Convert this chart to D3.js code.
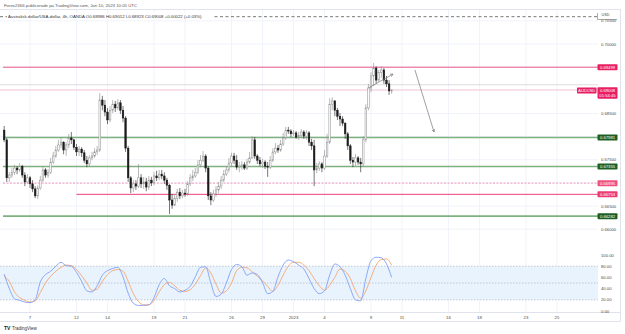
<!DOCTYPE html>
<html>
<head>
<meta charset="utf-8">
<script src="https://d3js.org/d3.v7.min.js"></script>
<style>
body { margin: 0; background: #fff; }
svg { display: block; font-family: "Liberation Sans", Arial, sans-serif; }
</style>
</head>
<body>
<div id="chart"></div>
<script>
// AUDUSD 4h candles, bar 0 = Dec 5, last bar = Jan 10 08:00
var firstOpen = 0.6814;
var closes = [
0.6793,0.6711,0.6717,0.6723,0.6732,0.6728,0.6736,0.6717,0.6702,0.6711,
0.6698,0.6687,0.6672,0.6689,0.6706,0.6728,0.6717,0.6723,0.6745,0.6758,
0.6771,0.6782,0.6788,0.6771,0.6782,0.6797,0.6793,0.6777,0.6767,0.6773,
0.6765,0.6749,0.6741,0.6754,0.6758,0.6767,0.6771,0.6879,0.6868,0.6853,
0.6836,0.6857,0.6870,0.6862,0.6873,0.6857,0.6840,0.6775,0.6711,0.6689,
0.6698,0.6693,0.6711,0.6698,0.6702,0.6691,0.6706,0.6700,0.6715,0.6711,
0.6719,0.6715,0.6706,0.6695,0.6663,0.6652,0.6667,0.6680,0.6672,0.6678,
0.6676,0.6698,0.6711,0.6715,0.6723,0.6739,0.6749,0.6758,0.6732,0.6672,
0.6663,0.6676,0.6685,0.6693,0.6706,0.6719,0.6728,0.6743,0.6758,0.6749,
0.6734,0.6736,0.6739,0.6732,0.6745,0.6754,0.6793,0.6758,0.6749,0.6741,
0.6745,0.6736,0.6734,0.6749,0.6767,0.6775,0.6771,0.6784,0.6797,0.6814,
0.6812,0.6806,0.6808,0.6799,0.6803,0.6810,0.6801,0.6808,0.6788,0.6780,
0.6728,0.6732,0.6741,0.6732,0.6758,0.6788,0.6870,0.6877,0.6857,0.6844,
0.6838,0.6829,0.6806,0.6780,0.6749,0.6745,0.6754,0.6745,0.6741,0.6793,
0.6862,0.6905,0.6931,0.6948,0.6922,0.6939,0.6944,0.6922,0.6914,0.68986,
0.69008];
var highs = [
0.6823,0.6797,0.6723,0.6732,0.6739,0.6736,0.6743,0.6739,0.6723,0.6719,
0.6715,0.6706,0.6693,0.6695,0.6715,0.6736,0.6732,0.6730,0.6754,0.6767,
0.6780,0.6793,0.6799,0.6790,0.6788,0.6806,0.6810,0.6795,0.6784,0.6780,
0.6777,0.6771,0.6758,0.6760,0.6767,0.6775,0.6780,0.6894,0.6888,0.6879,
0.6862,0.6866,0.6879,0.6877,0.6881,0.6879,0.6866,0.6844,0.6780,0.6715,
0.6706,0.6706,0.6741,0.6719,0.6713,0.6711,0.6715,0.6713,0.6723,0.6726,
0.6728,0.6728,0.6723,0.6711,0.6698,0.6676,0.6674,0.6687,0.6689,0.6685,
0.6687,0.6704,0.6719,0.6728,0.6732,0.6749,0.6760,0.6769,0.6762,0.6736,
0.6680,0.6685,0.6693,0.6702,0.6715,0.6728,0.6736,0.6754,0.6765,0.6765,
0.6760,0.6745,0.6747,0.6745,0.6752,0.6767,0.6801,0.6799,0.6762,0.6756,
0.6752,0.6749,0.6745,0.6758,0.6775,0.6786,0.6782,0.6793,0.6808,0.6821,
0.6821,0.6816,0.6814,0.6812,0.6810,0.6816,0.6814,0.6814,0.6812,0.6795,
0.6793,0.6743,0.6747,0.6745,0.6771,0.6806,0.6883,0.6885,0.6879,0.6862,
0.6851,0.6844,0.6831,0.6810,0.6784,0.6756,0.6762,0.6758,0.6754,0.6801,
0.6870,0.6914,0.6939,0.6959,0.6952,0.6944,0.6952,0.6948,0.6931,0.6922,
0.69012];
var lows = [
0.6788,0.6702,0.6702,0.6711,0.6717,0.6719,0.6723,0.6711,0.6693,0.6698,
0.6689,0.6680,0.6667,0.6665,0.6685,0.6702,0.6711,0.6711,0.6719,0.6741,
0.6754,0.6767,0.6775,0.6762,0.6758,0.6775,0.6784,0.6771,0.6758,0.6758,
0.6756,0.6743,0.6734,0.6736,0.6749,0.6754,0.6760,0.6767,0.6857,0.6844,
0.6827,0.6831,0.6851,0.6853,0.6857,0.6849,0.6831,0.6767,0.6702,0.6678,
0.6680,0.6685,0.6689,0.6689,0.6687,0.6682,0.6685,0.6693,0.6695,0.6704,
0.6706,0.6708,0.6698,0.6685,0.6633,0.6644,0.6650,0.6659,0.6665,0.6667,
0.6670,0.6672,0.6693,0.6704,0.6711,0.6719,0.6734,0.6745,0.6723,0.6663,
0.6652,0.6659,0.6670,0.6678,0.6687,0.6702,0.6715,0.6723,0.6736,0.6741,
0.6728,0.6723,0.6728,0.6728,0.6728,0.6741,0.6752,0.6752,0.6741,0.6736,
0.6732,0.6730,0.6713,0.6730,0.6745,0.6762,0.6765,0.6767,0.6780,0.6793,
0.6806,0.6799,0.6801,0.6795,0.6793,0.6797,0.6795,0.6793,0.6780,0.6771,
0.6693,0.6721,0.6726,0.6723,0.6728,0.6754,0.6784,0.6857,0.6844,0.6836,
0.6823,0.6823,0.6795,0.6771,0.6741,0.6734,0.6736,0.6739,0.6723,0.6736,
0.6788,0.6857,0.6896,0.6909,0.6914,0.6918,0.6927,0.6914,0.6907,0.6890,
0.68923];

// Stoch RSI, one reading every 2 bars
var stochStep = 2;
var stochK = [66,40,22,19,16,15,20,52,65,71, 80,87,81,80,69,53,36,34,45,64,
  72,76,78,61,32,14,10,10,11,24, 47,58,45,40,34,37,44,61,78,79,
  50,26,30,50,74,83,79,64,68,65, 51,31,35,61,82,91,88,82,75,58,
  40,31,36,64,84,79,64,40,20,18, 58,90,96,95,84,60];
var stochD = [62,53,34,24,19,16,18,33,50,62, 71,78,82,81,74,63,50,37,39,53,
  65,72,74,71,53,31,17,11,11,19, 34,47,51,45,37,35,38,48,63,77,
  68,48,32,36,50,72,78,77,70,62, 54,44,35,46,64,80,87,87,82,72,
  58,45,37,46,60,75,71,58,36,23, 36,60,82,92,93,82];

// time axis
var tickBars = [10, 28, 40, 58, 70, 88, 100, 112, 124, 142, 154, 172, 184, 202, 214];
var tickLabels = ["7","12","14","19","21","26","29","2023","4","9","11","16","18","23","25"];

// price axis
var priceTicks = [0.705, 0.700, 0.685, 0.675, 0.665, 0.660];
var stochTicks = [100, 80, 60, 40, 20, 0];

// drawn levels
var levelPrices = [0.69499, 0.67981, 0.67355, 0.66995, 0.66753, 0.66282];
var levelKinds  = ["red", "green", "green", "pinkdash", "pink", "green"];
var levelFromBar = [null, null, null, null, 28, null];
var lastPrice = 0.69008;
var greyLevel = 0.6912;
var topLevel = 0.7059;

// trend arrows [bar, price] -> [bar, price]
var arrows = [
  [[141, 0.6905], [150.5, 0.6935]],
  [[159, 0.6944], [166.4, 0.6810]]
];

var W = 625, H = 334, axisX = 598;

var svg = d3.select("#chart").append("svg")
    .attr("width", W)
    .attr("height", H);

var x = d3.scaleLinear().domain([10, 214]).range([30, 557]);
var y = d3.scaleLinear().domain([0.66, 0.70]).range([229.2, 44]);
var ys = d3.scaleLinear().domain([0, 100]).range([311, 255]);

var kindColor = { red: "#e9588a", green: "#6fa86f", pinkdash: "#f39ab8", pink: "#ec407a" };
var boxColor = { red: "#e91e63", green: "#1f5e22", pinkdash: "#f0507f", pink: "#ec3b74" };

// grid
svg.append("g").selectAll("line").data(tickBars).enter().append("line")
    .attr("x1", function (d) { return x(d); }).attr("x2", function (d) { return x(d); })
    .attr("y1", 9).attr("y2", 312)
    .attr("stroke", "#f0f3fa").attr("stroke-width", 1);

svg.append("g").selectAll("line").data(d3.range(0.660, 0.7051, 0.005)).enter().append("line")
    .attr("x1", 0).attr("x2", axisX)
    .attr("y1", function (d) { return y(d); }).attr("y2", function (d) { return y(d); })
    .attr("stroke", "#f0f3fa").attr("stroke-width", 1);

// frame
svg.append("line").attr("x1", 0).attr("x2", 621).attr("y1", 9.5).attr("y2", 9.5).attr("stroke", "#e0e3eb");
svg.append("line").attr("x1", 0).attr("x2", 621).attr("y1", 312.5).attr("y2", 312.5).attr("stroke", "#e0e3eb");
svg.append("line").attr("x1", 0).attr("x2", 621).attr("y1", 321.5).attr("y2", 321.5).attr("stroke", "#e0e3eb");
svg.append("line").attr("x1", 620.5).attr("x2", 620.5).attr("y1", 9).attr("y2", 322).attr("stroke", "#e0e3eb");

// stoch band
svg.append("rect")
    .attr("x", 0).attr("width", axisX)
    .attr("y", ys(80)).attr("height", ys(20) - ys(80))
    .attr("fill", "#e8f3fd");
svg.append("g").selectAll("line").data([80, 50, 20]).enter().append("line")
    .attr("x1", 0).attr("x2", axisX)
    .attr("y1", function (d) { return ys(d); }).attr("y2", function (d) { return ys(d); })
    .attr("stroke", "#b8bcc6").attr("stroke-width", 0.8)
    .attr("stroke-dasharray", "1.5,1.5");

// top dashed line
svg.append("line")
    .attr("x1", 0).attr("x2", axisX)
    .attr("y1", y(topLevel)).attr("y2", y(topLevel))
    .attr("stroke", "#555").attr("stroke-width", 0.8)
    .attr("stroke-dasharray", "3,2.5");

// grey level + last price line
svg.append("line")
    .attr("x1", 0).attr("x2", axisX)
    .attr("y1", y(greyLevel)).attr("y2", y(greyLevel))
    .attr("stroke", "#d3d3d3").attr("stroke-width", 0.8);
svg.append("line")
    .attr("x1", 0).attr("x2", axisX)
    .attr("y1", y(lastPrice)).attr("y2", y(lastPrice))
    .attr("stroke", "#f7bcd0").attr("stroke-width", 0.8);

// levels
svg.append("g").selectAll("line").data(levelPrices).enter().append("line")
    .attr("x1", function (d, i) { return levelFromBar[i] == null ? 3 : x(levelFromBar[i]); })
    .attr("x2", axisX)
    .attr("y1", function (d) { return y(d); }).attr("y2", function (d) { return y(d); })
    .attr("stroke", function (d, i) { return kindColor[levelKinds[i]]; })
    .attr("stroke-opacity", function (d, i) { return levelKinds[i] == "green" ? 0.9 : 1; })
    .attr("stroke-width", function (d, i) { return levelKinds[i] == "green" ? 1.6 : 1; })
    .attr("stroke-dasharray", function (d, i) { return levelKinds[i] == "pinkdash" ? "2,1.5" : null; });

// candles
var candles = closes.map(function (c, i) {
    return { i: i, o: i == 0 ? firstOpen : closes[i - 1], h: highs[i], l: lows[i], c: c };
});

var cg = svg.append("g");
cg.selectAll(".wick").data(candles).enter().append("line")
    .attr("class", "wick")
    .attr("x1", function (d) { return x(d.i); }).attr("x2", function (d) { return x(d.i); })
    .attr("y1", function (d) { return y(d.h); }).attr("y2", function (d) { return y(d.l); })
    .attr("stroke", function (d) { return d.c >= d.o ? "#8c8c8c" : "#1c1c1c"; })
    .attr("stroke-width", 0.6);
cg.selectAll(".body").data(candles).enter().append("rect")
    .attr("class", "body")
    .attr("x", function (d) { return x(d.i) - 0.8; })
    .attr("width", 1.6)
    .attr("y", function (d) { return y(Math.max(d.o, d.c)); })
    .attr("height", function (d) { return Math.max(0.6, Math.abs(y(d.o) - y(d.c))); })
    .style("fill", function (d) { return d.c >= d.o ? "#ffffff" : "#1c1c1c"; })
    .style("stroke", function (d) { return d.c >= d.o ? "#8c8c8c" : "#1c1c1c"; })
    .style("stroke-width", 0.5);

// arrows
arrows.forEach(function (a) {
    var x1 = x(a[0][0]), y1 = y(a[0][1]), x2 = x(a[1][0]), y2 = y(a[1][1]);
    var ang = Math.atan2(y2 - y1, x2 - x1), L = 3;
    svg.append("line").attr("x1", x1).attr("y1", y1).attr("x2", x2).attr("y2", y2)
        .attr("stroke", "#777").attr("stroke-width", 0.7);
    svg.append("path")
        .attr("d", "M" + (x2 - L * Math.cos(ang - 0.5)) + "," + (y2 - L * Math.sin(ang - 0.5)) +
            "L" + x2 + "," + y2 +
            "L" + (x2 - L * Math.cos(ang + 0.5)) + "," + (y2 - L * Math.sin(ang + 0.5)))
        .attr("fill", "none").attr("stroke", "#777").attr("stroke-width", 0.7);
});

// stoch lines
var sline = d3.line()
    .x(function (d, i) { return x(i * stochStep); })
    .y(function (d) { return ys(d); })
    .curve(d3.curveMonotoneX);
svg.append("path").datum(stochD).attr("d", sline)
    .attr("fill", "none").attr("stroke", "#f6a46e").attr("stroke-width", 0.9);
svg.append("path").datum(stochK).attr("d", sline)
    .attr("fill", "none").attr("stroke", "#7f9ff6").attr("stroke-width", 0.9);

// price axis labels
svg.append("g").selectAll("text").data(priceTicks).enter().append("text")
    .attr("x", 601).attr("y", function (d) { return y(d) + 1.5; })
    .style("font-size", "4.2px").style("fill", "#4a4a4a")
    .text(function (d) { return d.toFixed(5); });
svg.append("g").selectAll("text").data(stochTicks).enter().append("text")
    .attr("x", 601).attr("y", function (d) { return ys(d) + 1.5; })
    .style("font-size", "4.2px").style("fill", "#4a4a4a")
    .text(function (d) { return d.toFixed(2); });

// USD marker
svg.append("text").attr("x", 601.5).attr("y", 15.5)
    .style("font-size", "3.8px").style("fill", "#4a4a4a").text("USD");
svg.append("path").attr("d", "M597.5,13V19.5H617").attr("fill", "none")
    .attr("stroke", "#777").attr("stroke-width", 0.6);

// level labels on axis
var lg = svg.append("g");
levelPrices.forEach(function (p, i) {
    lg.append("rect").attr("x", 597.5).attr("y", y(p) - 3).attr("width", 20).attr("height", 6)
        .attr("rx", 0.8).attr("fill", boxColor[levelKinds[i]]);
    lg.append("text").attr("x", 607.5).attr("y", y(p) + 1.5).attr("text-anchor", "middle")
        .style("font-size", "4.2px").style("fill", "#fff").text(p.toFixed(5));
});

// last price label
svg.append("rect").attr("x", 577).attr("y", y(lastPrice) - 2.5).attr("width", 19.5).attr("height", 6)
    .attr("rx", 0.8).attr("fill", "#e91e63");
svg.append("text").attr("x", 586.75).attr("y", y(lastPrice) + 2).attr("text-anchor", "middle")
    .style("font-size", "4px").style("fill", "#fff").text("AUDUSD");
svg.append("rect").attr("x", 597.5).attr("y", y(lastPrice) - 2.8).attr("width", 20).attr("height", 11.5)
    .attr("rx", 0.8).attr("fill", "#e91e63");
svg.append("text").attr("x", 607.5).attr("y", y(lastPrice) + 1.8).attr("text-anchor", "middle")
    .style("font-size", "4.2px").style("fill", "#fff").text(lastPrice.toFixed(5));
svg.append("text").attr("x", 607.5).attr("y", y(lastPrice) + 7).attr("text-anchor", "middle")
    .style("font-size", "4.2px").style("fill", "#fff").text("01:54:45");

// time axis labels
svg.append("g").selectAll("text").data(tickBars).enter().append("text")
    .attr("x", function (d) { return x(d); }).attr("y", 318.5)
    .attr("text-anchor", "middle")
    .style("font-size", "4.3px").style("fill", "#4a4a4a")
    .text(function (d, i) { return tickLabels[i]; });

// header
svg.append("text").attr("x", 4).attr("y", 6.5)
    .style("font-size", "4.3px").style("fill", "#555")
    .text("Forex2366 publicerade på TradingView.com, Jan 10, 2023 10:05 UTC");
svg.append("rect").attr("x", 7).attr("y", 13).attr("width", 206).attr("height", 6).attr("fill", "#fff");
svg.append("text").attr("x", 8).attr("y", 17.5)
    .style("font-size", "4.3px").style("fill", "#333")
    .text("Australisk dollar/USA-dollar, 4h, OANDA  O0.68986  H0.69012  L0.68923  C0.69008  +0.00022 (+0.03%)");

// footer logo
svg.append("text").attr("x", 4).attr("y", 329.5)
    .style("font-size", "5px").style("font-weight", "bold").style("fill", "#131722").text("TV");
svg.append("text").attr("x", 12).attr("y", 329.5)
    .style("font-size", "4.5px").style("fill", "#333").text("TradingView");
</script>
</body>
</html>
